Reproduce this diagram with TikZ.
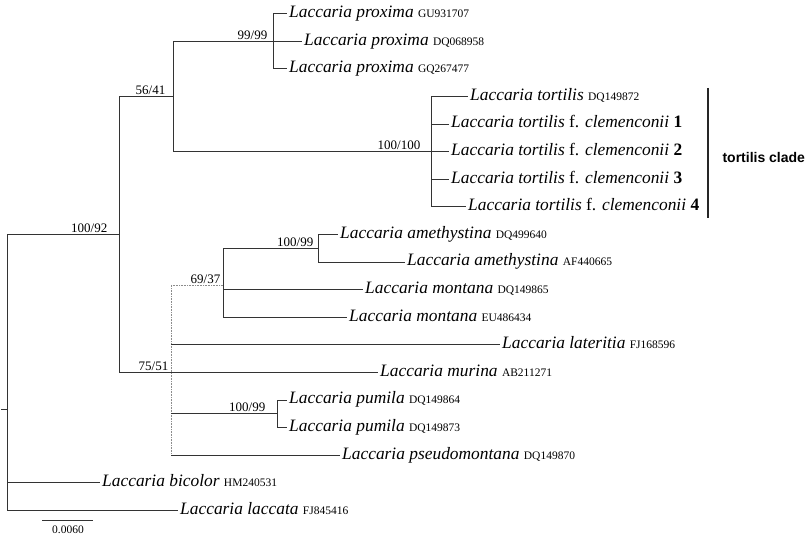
\documentclass[tikz,border=0pt]{standalone}
\usepackage{fontspec}
\setmainfont{Liberation Serif}
\newfontfamily\cladefont{Liberation Sans}
\usepackage{tikz}
\usetikzlibrary{positioning}
\tikzstyle{branch}=[draw,black!80,line width=0.6pt]
\tikzstyle{faint}=[draw,black!45,line width=0.6pt,densely dotted]
\tikzstyle{taxon}=[anchor=west,inner sep=2pt,text height=11pt,text depth=3pt,
font=\fontsize{17.4}{19}\selectfont\itshape]
\tikzstyle{support}=[anchor=south east,inner sep=1.5pt,font=\fontsize{13}{14}\selectfont]
\newcommand{\acc}[1]{{\upshape\fontsize{11.5}{12}\selectfont #1}}
\newcommand{\clem}[1]{Laccaria tortilis {\upshape f.} clemenconii {\upshape\bfseries #1}}

\begin{document}
\begin{tikzpicture}[x=1pt,y=-1pt]
\useasboundingbox (0,0) rectangle (811,537);

% % % inner nodes
	\coordinate (root) at (7,409);
	\coordinate (rootstem) at (1,409);
	\coordinate (n10092) at (119,234.3);
	\coordinate (n5641) at (173,96.3);
	\coordinate (n9999) at (273,41.1);
	\coordinate (n100100) at (431,151.5);
	\coordinate (n7551) at (171,372.3);
	\coordinate (n6937) at (223,284.9);
	\coordinate (nAmet) at (318,248.1);
	\coordinate (nPumi) at (277,413.7);

% % % taxa
	\node[taxon] (prox1) at (287,13.5) {Laccaria proxima \acc{GU931707}};
	\node[taxon] (prox2) at (302,41.1) {Laccaria proxima \acc{DQ068958}};
	\node[taxon] (prox3) at (287,68.7) {Laccaria proxima \acc{GQ267477}};
	\node[taxon] (tort) at (468,96.3) {Laccaria tortilis \acc{DQ149872}};
	\node[taxon] (clemA) at (449,123.9) {\clem{1}};
	\node[taxon] (clemB) at (449,151.5) {\clem{2}};
	\node[taxon] (clemC) at (449,179.1) {\clem{3}};
	\node[taxon] (clemD) at (466,206.7) {\clem{4}};
	\node[taxon] (amet1) at (338,234.3) {Laccaria amethystina \acc{DQ499640}};
	\node[taxon] (amet2) at (405,261.9) {Laccaria amethystina \acc{AF440665}};
	\node[taxon] (mont1) at (363,289.5) {Laccaria montana \acc{DQ149865}};
	\node[taxon] (mont2) at (347,317.1) {Laccaria montana \acc{EU486434}};
	\node[taxon] (later) at (500,344.7) {Laccaria lateritia \acc{FJ168596}};
	\node[taxon] (murin) at (378,372.3) {Laccaria murina \acc{AB211271}};
	\node[taxon] (pumi1) at (287,399.9) {Laccaria pumila \acc{DQ149864}};
	\node[taxon] (pumi2) at (287,427.5) {Laccaria pumila \acc{DQ149873}};
	\node[taxon] (pseud) at (340,455.1) {Laccaria pseudomontana \acc{DQ149870}};
	\node[taxon] (bicol) at (100,482.7) {Laccaria bicolor \acc{HM240531}};
	\node[taxon] (lacca) at (178,510.3) {Laccaria laccata \acc{FJ845416}};

% % % branches
	\path[branch] (rootstem) -- (root);
	\path[branch] (root) |- (n10092);
	\path[branch] (root) |- (bicol.west);
	\path[branch] (root) |- (lacca.west);

	\path[branch] (n10092) |- (n5641);
	\path[branch] (n10092) |- (n7551);

	\path[branch] (n5641) |- (n9999);
	\path[branch] (n5641) |- (n100100);

	\path[branch] (n9999) |- (prox1.west);
	\path[branch] (n9999) -- (prox2.west);
	\path[branch] (n9999) |- (prox3.west);

	\path[branch] (n100100) |- (tort.west);
	\path[branch] (n100100) |- (clemA.west);
	\path[branch] (n100100) -- (clemB.west);
	\path[branch] (n100100) |- (clemC.west);
	\path[branch] (n100100) |- (clemD.west);

	\path[faint] (n7551 |- n6937) -- (n7551 |- pseud.west);
	\path[faint] (n7551 |- n6937) -- (n6937);
	\path[branch] (n7551 |- later.west) -- (later.west);
	\path[branch] (n7551) -- (murin.west);
	\path[branch] (n7551 |- nPumi) -- (nPumi);
	\path[branch] (n7551 |- pseud.west) -- (pseud.west);

	\path[branch] (n6937) |- (nAmet);
	\path[branch] (n6937) |- (mont1.west);
	\path[branch] (n6937) |- (mont2.west);

	\path[branch] (nAmet) |- (amet1.west);
	\path[branch] (nAmet) |- (amet2.west);

	\path[branch] (nPumi) |- (pumi1.west);
	\path[branch] (nPumi) |- (pumi2.west);

% % % supports
	\node[support,xshift=-10pt] (s10092) at (n10092) {100/92};
	\node[support,xshift=-6pt] (s5641) at (n5641) {56/41};
	\node[support,xshift=-4pt] (s9999) at (n9999) {99/99};
	\node[support,xshift=-9pt] (s100100) at (n100100) {100/100};
	\node[support,xshift=-1pt] (s7551) at (n7551) {75/51};
	\node[support,xshift=-1pt] (s6937) at (n6937) {69/37};
	\node[support,xshift=-3pt] (sAmet) at (nAmet) {100/99};
	\node[support,xshift=-10pt] (sPumi) at (nPumi) {100/99};

% % % clade bar
	\coordinate (barTop) at (708,88);
	\coordinate (barBot) at (708,218);
	\path[draw,line width=2pt,black!85] (barTop) -- (barBot);
	\node[anchor=west,font=\cladefont\bfseries\fontsize{14}{16}\selectfont]
	(clade) at (719,157) {tortilis clade};

% % % scale
	\coordinate (sb1) at (42,520);
	\coordinate (sb2) at (93,520);
	\path[branch] (sb1) -- (sb2);
	\node[font=\fontsize{11.5}{12}\selectfont] (sblab) at (68,530) {0.0060};
\end{tikzpicture}
\end{document}
